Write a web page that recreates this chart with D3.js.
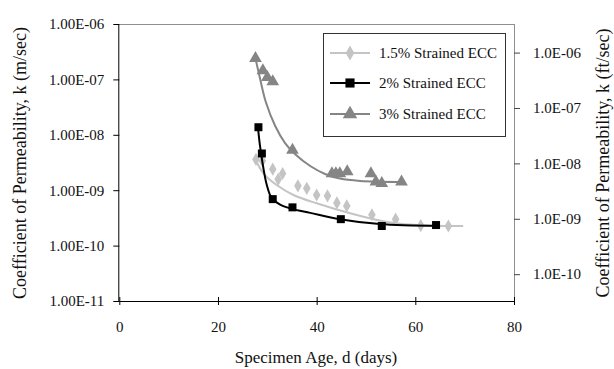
<!DOCTYPE html>
<html>
<head>
<meta charset="utf-8">
<script src="https://cdn.jsdelivr.net/npm/d3@7/dist/d3.min.js"></script>
<style>
  html, body { margin: 0; padding: 0; background: #fff; }
  svg text { font-family: "Liberation Serif", "Times New Roman", serif; fill: #111; }
</style>
</head>
<body>
<svg id="chart" width="614" height="369"></svg>
<script>
// Specimen age (days) and coefficient of permeability k (m/sec)
const age15 = [27.7, 29.0, 31.1, 32.2, 33.1, 36.2, 38.0, 40.0, 42.2, 44.1, 46.1, 51.2, 56.0, 61.1, 66.7];
const k15   = [3.6e-9, 3.4e-9, 2.4e-9, 1.57e-9, 2.0e-9, 1.2e-9, 1.08e-9, 8.2e-10, 7.9e-10, 5.9e-10, 5.2e-10, 3.6e-10, 3.0e-10, 2.3e-10, 2.26e-10];

const age2 = [28.2, 28.9, 31.1, 35.1, 44.9, 53.2, 64.2];
const k2   = [1.37e-8, 4.6e-9, 6.9e-10, 4.9e-10, 3.0e-10, 2.26e-10, 2.35e-10];

const age3 = [27.6, 29.1, 30.0, 31.1, 35.1, 43.1, 43.9, 44.7, 46.2, 51.0, 52.0, 53.2, 57.2];
const k3   = [2.4e-7, 1.44e-7, 1.09e-7, 9.1e-8, 5.3e-9, 2.0e-9, 2.0e-9, 2.0e-9, 2.16e-9, 2.0e-9, 1.42e-9, 1.33e-9, 1.42e-9];

// Trend curves for each strain level
const fitAge15 = [27.5, 29.2, 31.9, 35.3, 40.0, 46.8, 54.9, 62.0, 69.7];
const fitK15   = [3.77e-9, 2.02e-9, 1.24e-9, 8.2e-10, 5.8e-10, 3.83e-10, 2.6e-10, 2.3e-10, 2.26e-10];

const fitAge2 = [28.1, 28.5, 29.1, 29.9, 30.9, 32.6, 35.0, 38.7, 44.7, 52.8, 65.0];
const fitK2   = [1.38e-8, 6.5e-9, 2.85e-9, 1.24e-9, 7.2e-10, 5.5e-10, 4.6e-10, 3.9e-10, 3.0e-10, 2.45e-10, 2.26e-10];

const fitAge3 = [27.5, 28.5, 29.7, 31.6, 33.6, 35.6, 38.7, 41.7, 44.7, 48.8, 57.9];
const fitK3   = [2.64e-7, 1.06e-7, 3.9e-8, 1.44e-8, 7.1e-9, 4.5e-9, 2.73e-9, 1.96e-9, 1.62e-9, 1.47e-9, 1.41e-9];

// Axis ticks
const xTicks = [0, 20, 40, 60, 80];
const yTicksMs = [1e-11, 1e-10, 1e-9, 1e-8, 1e-7, 1e-6];
const yTickLabelsMs = ["1.00E-11", "1.00E-10", "1.00E-09", "1.00E-08", "1.00E-07", "1.00E-06"];
const yTicksFts = [1e-10, 1e-9, 1e-8, 1e-7, 1e-6];
const yTickLabelsFts = ["1.0E-10", "1.0E-09", "1.0E-08", "1.0E-07", "1.0E-06"];
const FT_PER_M = 3.2808;

const seriesNames = ["1.5% Strained ECC", "2% Strained ECC", "3% Strained ECC"];

const svg = d3.select("#chart");
const plotL = 119.3, plotR = 514, plotT = 24, plotB = 301;

const x = d3.scaleLinear().domain([0, 80]).range([plotL, plotR]);
const y = d3.scaleLog().domain([1e-11, 1e-6]).range([plotB, plotT]);
const yFt = d3.scaleLog().domain([1e-11 * FT_PER_M, 1e-6 * FT_PER_M]).range([plotB, plotT]);

// Plot frame: top edge in grey
svg.append("line").attr("x1", plotL).attr("x2", plotR).attr("y1", plotT + 0.5).attr("y2", plotT + 0.5)
  .attr("stroke", "#8f8f8f").attr("stroke-width", 1);

// Right axis (ft/sec)
const rAxis = svg.append("g").attr("transform", `translate(${plotR},0)`)
  .call(d3.axisRight(yFt).tickValues(yTicksFts).tickSize(6).tickPadding(13)
    .tickFormat((d, i) => yTickLabelsFts[i]));
rAxis.select(".domain").attr("stroke", "#8f8f8f").attr("d", `M0.5,${plotT}V${plotB}`);
rAxis.selectAll(".tick line").attr("stroke", "#444");
rAxis.selectAll("text").style("font-size", "15px").attr("fill", "#111");

// Left axis (m/sec)
const lAxis = svg.append("g").attr("transform", `translate(${plotL},0)`)
  .call(d3.axisLeft(y).tickValues(yTicksMs).tickSize(6).tickPadding(9)
    .tickFormat((d, i) => yTickLabelsMs[i]));
lAxis.select(".domain").attr("stroke", "#000").attr("d", `M-0.5,${plotT}V${plotB}`);
lAxis.selectAll("text").style("font-size", "15px").attr("fill", "#111");

// Bottom axis with crossing ticks
const bAxis = svg.append("g").attr("transform", `translate(0,${plotB})`)
  .call(d3.axisBottom(x).tickValues(xTicks).tickSize(4).tickPadding(16));
bAxis.select(".domain").attr("stroke", "#000").attr("d", `M${plotL},0.5H${plotR}`);
bAxis.selectAll(".tick line").attr("y1", -4).attr("y2", 4);
bAxis.selectAll("text").style("font-size", "15px").attr("fill", "#111");

// Axis titles
svg.append("text").attr("x", 316).attr("y", 363).attr("text-anchor", "middle")
  .style("font-size", "17px").text("Specimen Age, d (days)");
svg.append("text").attr("transform", "translate(26,163) rotate(-90)").attr("text-anchor", "middle")
  .style("font-size", "18px").text("Coefficient of Permeability, k (m/sec)");
svg.append("text").attr("transform", "translate(609,163) rotate(-90)").attr("text-anchor", "middle")
  .style("font-size", "18px").text("Coefficient of Permeability, k (ft/sec)");

// Series styles
const colors = ["#c4c4c4", "#000000", "#858585"];
const symbols = [d3.symbolDiamond, d3.symbolSquare, d3.symbolTriangle];
const symSizes = [50, 64, 70];

const line = d3.line().x(d => x(d[0])).y(d => y(d[1])).curve(d3.curveCatmullRom.alpha(0.5));

const fits = [
  d3.zip(fitAge15, fitK15),
  d3.zip(fitAge2, fitK2),
  d3.zip(fitAge3, fitK3)
];
const pts = [
  d3.zip(age15, k15),
  d3.zip(age2, k2),
  d3.zip(age3, k3)
];

// Markers then trend curves, drawn series by series
[0, 2, 1].forEach(i => {
  svg.append("g").selectAll("path").data(pts[i]).join("path")
    .attr("transform", d => `translate(${x(d[0])},${y(d[1])})`)
    .attr("d", d3.symbol(symbols[i], symSizes[i]))
    .attr("fill", colors[i]);
  svg.append("path").datum(fits[i]).attr("d", line)
    .attr("fill", "none").attr("stroke", colors[i]).attr("stroke-width", 2);
});

// Legend
const lg = svg.append("g");
lg.append("rect").attr("x", 323.5).attr("y", 33.5).attr("width", 182).attr("height", 103)
  .attr("fill", "#fff").attr("stroke", "#333").attr("stroke-width", 1);
const rowY = [53, 83, 114];
seriesNames.forEach((name, i) => {
  lg.append("line").attr("x1", 330).attr("x2", 370).attr("y1", rowY[i]).attr("y2", rowY[i])
    .attr("stroke", colors[i]).attr("stroke-width", 2);
  lg.append("path").attr("transform", `translate(350,${rowY[i]})`)
    .attr("d", d3.symbol(symbols[i], symSizes[i] * 1.3)).attr("fill", colors[i]);
  lg.append("text").attr("x", 379).attr("y", rowY[i] + 5).style("font-size", "15px").text(name);
});
</script>
</body>
</html>
